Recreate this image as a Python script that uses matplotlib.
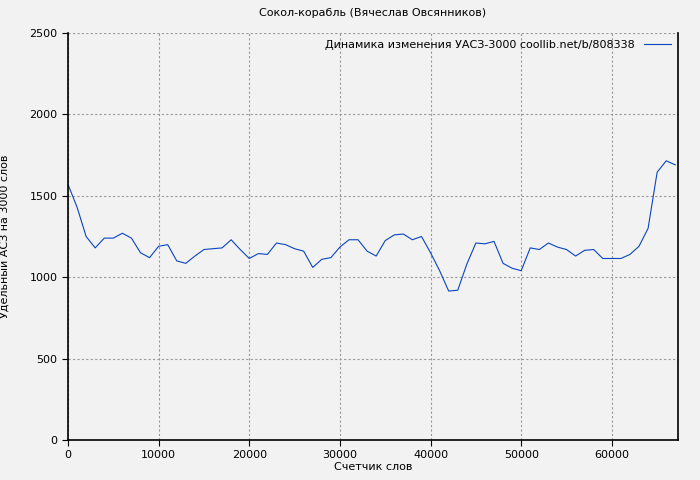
import matplotlib
matplotlib.use('Agg')
import matplotlib.pyplot as plt

words = list(range(0, 68000, 1000))
values = [1570, 1430, 1250, 1180, 1240, 1240, 1270, 1240, 1150, 1120,
          1190, 1200, 1100, 1085, 1130, 1170, 1175, 1180, 1230, 1170,
          1115, 1145, 1140, 1210, 1200, 1175, 1160, 1060, 1110, 1120,
          1185, 1230, 1230, 1160, 1130, 1225, 1260, 1265, 1230, 1250,
          1150, 1040, 915, 920, 1080, 1210, 1205, 1220, 1085, 1055,
          1040, 1180, 1170, 1210, 1185, 1170, 1130, 1165, 1170, 1115,
          1115, 1115, 1140, 1190, 1300, 1645, 1715, 1690]

bg = '#f2f2f2'
fig = plt.figure(figsize=(7, 4.8), dpi=100, facecolor=bg)
ax = fig.add_axes([68 / 700, 40 / 480, 610 / 700, 407 / 480], facecolor=bg)
ax.plot(words, values, color='#0a45c0', lw=0.8,
        label='Динамика изменения УАСЗ-3000 coollib.net/b/808338')
ax.set_xlim(0, 67300)
ax.set_ylim(0, 2500)
ax.set_xticks(range(0, 67000, 10000))
ax.set_yticks(range(0, 2501, 500))
ax.grid(True, color='#999999', linestyle=(0, (2, 2)), lw=0.8)
ax.tick_params(labelsize=8, length=4, direction='out')
for s in ax.spines.values():
    s.set_linewidth(1.2)
ax.spines['top'].set_visible(False)
ax.set_xlabel('Счетчик слов', fontsize=8, labelpad=1)
ax.set_ylabel('Удельный АСЗ на 3000 слов', fontsize=8, labelpad=0)
ax.yaxis.set_label_coords(-0.095, 0.5)
ax.set_title('Сокол-корабль (Вячеслав Овсянников)', fontsize=8, pad=12)
ax.legend(loc='upper right', fontsize=8, frameon=False, markerfirst=False,
          handlelength=2.5, borderaxespad=0.2)
fig.savefig('out.png', dpi=100, facecolor=bg)
